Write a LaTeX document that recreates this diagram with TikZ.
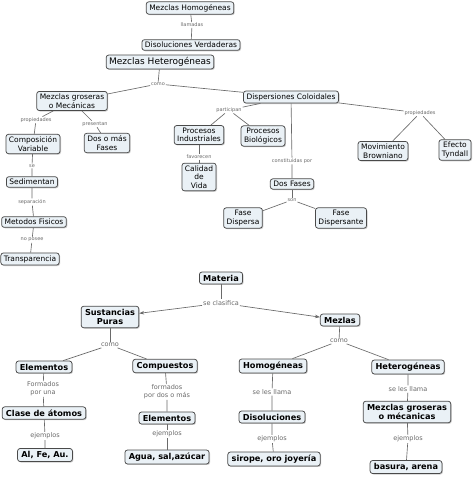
\documentclass[tikz,border=0pt]{standalone}
\usepackage{fontspec}
\setmainfont{DejaVu Sans}
\usetikzlibrary{shadows,arrows.meta}
\definecolor{boxfill}{HTML}{EAF1F6}
\definecolor{boxdraw}{HTML}{4A4A4A}
\definecolor{linec}{HTML}{6A6A6A}
\definecolor{labc}{HTML}{6A6A6A}
\tikzset{
 concept/.style={draw=boxdraw, fill=boxfill, rounded corners=2.5pt, line width=0.75pt, align=center,
   inner xsep=3pt, inner ysep=2.4pt,
   drop shadow={shadow xshift=1pt, shadow yshift=-1pt, opacity=0.4}},
 topc/.style={concept, font=\fontsize{7.5}{8.5}\selectfont},
 botc/.style={concept, inner xsep=3.8pt, inner ysep=2.8pt, font=\fontsize{8.2}{9.6}\bfseries\selectfont},
 lab/.style={fill=white, inner sep=0.8pt, text=labc, align=center, font=\fontsize{5}{5.8}\selectfont},
 lab2/.style={fill=white, inner sep=0.8pt, text=labc, align=center, font=\fontsize{6.5}{7.6}\selectfont},
 conn/.style={draw=linec, line width=0.65pt},
 arr/.style={conn, -{Stealth[length=5pt,width=3.5pt]}},
}
\begin{document}
\begin{tikzpicture}[x=1pt,y=-1pt]
\useasboundingbox[fill=white] (0,0) rectangle (474,478);
% ---------- top map ----------
\node[topc] (mhom) at (190,8) {Mezclas Homogéneas};
\node[lab] (l1) at (192,25) {llamadas};
\node[topc] (dver) at (191,45) {Disoluciones Verdaderas};
\node[topc, font=\fontsize{9}{10}\selectfont] (mhet) at (160,62) {Mezclas Heterogéneas};
\node[lab] (l2) at (158,84) {como};
\node[topc] (mgros) at (72,101) {Mezclas groseras\\o Mecánicas};
\node[topc] (dcol) at (291,97) {Dispersiones Coloidales};
\node[lab] (l3) at (36,120) {propiedades};
\node[lab] (l4) at (95,124) {presentan};
\node[topc] (cvar) at (33,144) {Composición\\Variable};
\node[topc] (dosf) at (107,143) {Dos o más\\Fases};
\node[lab] (l5) at (32,166) {se};
\node[topc] (sed) at (32,182) {Sedimentan};
\node[lab] (l6) at (32,202) {separación};
\node[topc] (met) at (34,222) {Metodos Fisicos};
\node[lab] (l7) at (32,240) {no posee};
\node[topc] (tra) at (30,259) {Transparencia};
\node[lab] (l8) at (229,110) {participan};
\node[topc] (pind) at (199,135) {Procesos\\Industriales};
\node[topc] (pbio) at (263,136) {Procesos\\Biológicos};
\node[lab] (l9) at (199,157) {favorecen};
\node[topc] (cal) at (199,177) {Calidad\\de\\Vida};
\node[lab] (l10) at (292,161) {constituidas por};
\node[topc] (dfas) at (292,184) {Dos Fases};
\node[lab] (l11) at (292,200) {son};
\node[topc] (fdis) at (243,218) {Fase\\Dispersa};
\node[topc] (fdte) at (341,218) {Fase\\Dispersante};
\node[lab] (l12) at (420,113) {propiedades};
\node[topc] (mbro) at (383,151) {Movimiento\\Browniano};
\node[topc] (etyn) at (455,150) {Efecto\\Tyndall};
\draw[conn] (mhom) -- (l1) -- (dver);
\draw[conn] (mhet) -- (l2);
\draw[conn] (l2) -- (mgros);
\draw[conn] (l2) -- (dcol);
\draw[conn] (mgros) -- (l3) -- (cvar);
\draw[conn] (mgros) -- (l4) -- (dosf);
\draw[conn] (cvar) -- (l5) -- (sed);
\draw[conn] (sed) -- (l6) -- (met);
\draw[conn] (met) -- (l7) -- (tra);
\draw[conn] (dcol) -- (l8);
\draw[conn] (l8) -- (pind);
\draw[conn] (l8) -- (pbio);
\draw[conn] (pind) -- (l9) -- (cal);
\draw[conn] (dcol) -- (l10) -- (dfas);
\draw[conn] (dfas) -- (l11);
\draw[conn] (l11) -- (fdis);
\draw[conn] (l11) -- (fdte);
\draw[conn] (dcol) -- (l12);
\draw[conn] (l12) -- (mbro);
\draw[conn] (l12) -- (etyn);
% ---------- bottom map ----------
\node[botc] (mat) at (221,278) {Materia};
\node[lab2] (b1) at (221,303) {se clasifica};
\node[botc] (sus) at (110,317) {Sustancias\\Puras};
\node[botc] (mez) at (340,320) {Mezlas};
\node[lab2] (b2) at (110,345) {como};
\node[lab2] (b3) at (339,341) {como};
\node[botc] (ele) at (44,367) {Elementos};
\node[botc] (com) at (165,366) {Compuestos};
\node[lab2] (b4) at (43,389) {Formados\\por una};
\node[botc] (cla) at (44,413) {Clase de átomos};
\node[lab2] (b5) at (45,436) {ejemplos};
\node[botc] (alf) at (45,455) {Al, Fe, Au.};
\node[lab2] (b6) at (167,392) {formados\\por dos o más};
\node[botc] (ele2) at (167,418) {Elementos};
\node[lab2] (b7) at (167,434) {ejemplos};
\node[botc] (agu) at (167,457) {Agua, sal,azúcar};
\node[botc] (hom) at (273,366) {Homogéneas};
\node[botc] (het) at (408,367) {Heterogéneas};
\node[lab2] (b8) at (272,392) {se les llama};
\node[botc] (dis) at (272,417) {Disoluciones};
\node[lab2] (b9) at (272,439) {ejemplos};
\node[botc] (sir) at (274,459) {sirope, oro joyería};
\node[lab2] (b10) at (408,389) {se les llama};
\node[botc] (mgr2) at (407,412) {Mezclas groseras\\o mécanicas};
\node[lab2] (b11) at (408,439) {ejemplos};
\node[botc] (bas) at (406,467) {basura, arena};
\draw[conn] (mat) -- (b1);
\draw[arr] (b1) -- (sus);
\draw[arr] (b1) -- (mez);
\draw[conn] (sus) -- (b2);
\draw[conn] (b2) -- (ele);
\draw[conn] (b2) -- (com);
\draw[conn] (mez) -- (b3);
\draw[conn] (b3) -- (hom);
\draw[conn] (b3) -- (het);
\draw[conn] (ele) -- (b4) -- (cla);
\draw[conn] (cla) -- (b5) -- (alf);
\draw[conn] (com) -- (b6) -- (ele2);
\draw[conn] (ele2) -- (b7) -- (agu);
\draw[conn] (hom) -- (b8) -- (dis);
\draw[conn] (dis) -- (b9) -- (sir);
\draw[conn] (het) -- (b10) -- (mgr2);
\draw[conn] (mgr2) -- (b11) -- (bas);
\end{tikzpicture}
\end{document}
